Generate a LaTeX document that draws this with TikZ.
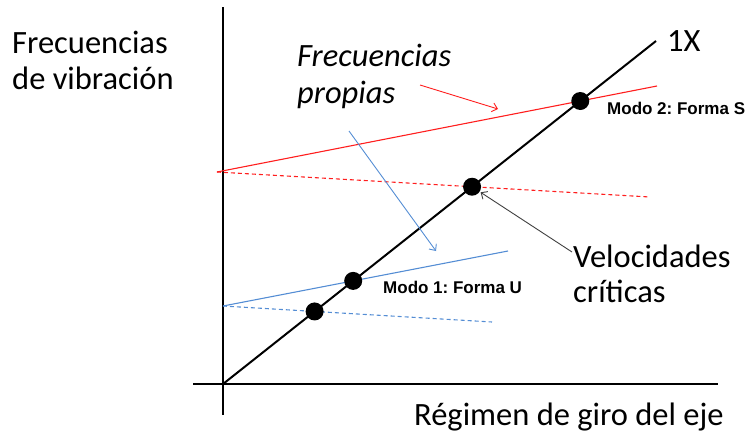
\documentclass[tikz,border=0pt]{standalone}
\usepackage{fontspec}
\setmainfont{Carlito}
\newfontfamily\arialfont{Liberation Sans}
\usetikzlibrary{arrows.meta}
\definecolor{myred}{RGB}{255,30,30}
\definecolor{myblue}{RGB}{84,141,212}
\definecolor{mygray}{RGB}{64,64,64}
\frenchspacing
\begin{document}
\begin{tikzpicture}[x=1pt,y=-1pt,
  big/.style={inner sep=0pt,anchor=base west,font=\fontsize{32.5}{36}\selectfont},
  modolbl/.style={inner sep=0pt,anchor=base west,text=black,font=\arialfont\bfseries\fontsize{17}{19}\selectfont},
  axisline/.style={line width=2pt,black},
  redline/.style={line width=1.1pt,myred},
  blueline/.style={line width=1.1pt,myblue},
  dashpat/.style={dash pattern=on 4pt off 3pt},
  dot/.style={circle,fill=black,inner sep=0pt,minimum size=18pt},
  barb/.style={-{Straight Barb[length=5pt,width=9pt]}}
]
\useasboundingbox (0,0) rectangle (748,437);
% axes
\coordinate (vtop) at (223,7);
\coordinate (vbot) at (223,415);
\coordinate (hleft) at (193,384);
\coordinate (hright) at (718,384);
\coordinate (O) at (223,384);
\coordinate (X) at (656,41);
\draw[axisline] (vtop) -- (vbot);
\draw[axisline] (hleft) -- (hright);
\draw[axisline] (O) -- (X);
% frequency lines
\coordinate (R0) at (217,172);
\coordinate (R1) at (657,86);
\coordinate (RD) at (650,197);
\coordinate (B0) at (223,306);
\coordinate (B1) at (508,251);
\coordinate (BD) at (492,322);
\draw[redline] (R0) -- (R1);
\draw[redline,dashpat] (R0) -- (RD);
\draw[blueline] (B0) -- (B1);
\draw[blueline,dashpat] (B0) -- (BD);
% critical speed dots
\node[dot] (d2) at (intersection of O--X and R0--R1) {};
\node[dot] (d2b) at (intersection of O--X and R0--RD) {};
\node[dot] (d1) at (intersection of O--X and B0--B1) {};
\node[dot] (d1b) at (intersection of O--X and B0--BD) {};
% labels
\node[big] (fv1) at (12,53) {Frecuencias};
\node[big] (fv2) at (12,89) {de vibración};
\node[big] (fp1) at (297,66) {\itshape Frecuencias};
\node[big] (fp2) at (297,103) {\itshape propias};
\node[big] (onex) at (667,51) {1X};
\node[big] (vc1) at (573,267) {Velocidades};
\node[big] (vc2) at (573,302) {críticas};
\node[big] (reg) at (414,425) {Régimen de giro del eje};
\node[modolbl] (m2) at (607,114) {Modo 2: Forma S};
\node[modolbl] (m1) at (383,293) {Modo 1: Forma U};
% arrows
\coordinate (ra0) at (420,85);
\coordinate (ra1) at (498,109);
\coordinate (ba0) at (349,131);
\coordinate (ba1) at (436,251);
\coordinate (va0) at (572,252);
\draw[myred,line width=0.9pt,barb] (ra0) -- (ra1);
\draw[myblue,line width=0.9pt,barb] (ba0) -- (ba1);
\draw[mygray,line width=0.9pt,barb,shorten >=1pt] (va0) -- (d2b);
\end{tikzpicture}
\end{document}
